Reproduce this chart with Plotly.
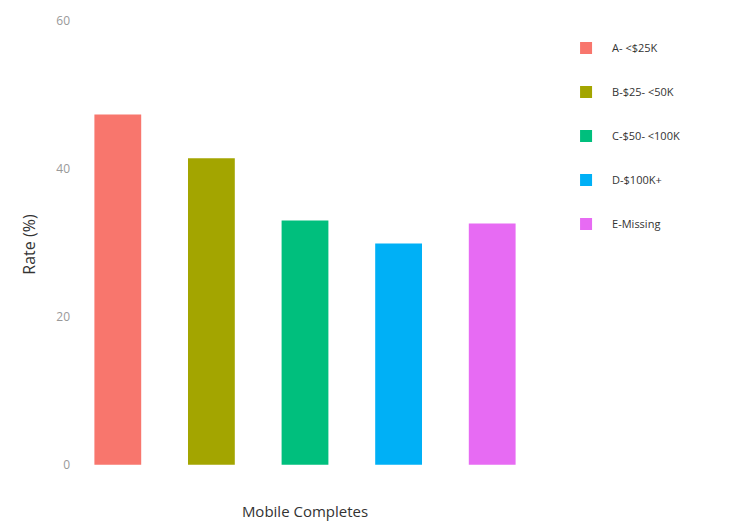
import plotly.graph_objects as go

categories = ["Mobile Completes"]
groups = ["A- <$25K", "B-$25- <50K", "C-$50- <100K", "D-$100K+", "E-Missing"]
rates = [47.3, 41.4, 33.0, 29.9, 32.6]
colors = ["#F8766D", "#A3A500", "#00BF7D", "#00B0F6", "#E76BF3"]
y_ticks = [0, 20, 40, 60]
title_text = "Completion Rate by Survey Type"

fig = go.Figure()
for g, r, c in zip(groups, rates, colors):
    fig.add_trace(go.Bar(x=categories, y=[r], name=g, marker_color=c,
                         marker_line_width=0, legendgroup=g))

fig.update_layout(
    width=736, height=526,
    barmode="group", bargap=0.0, bargroupgap=0.5,
    paper_bgcolor="white", plot_bgcolor="white",
    margin=dict(l=71, r=197, t=2, b=39),
    font=dict(family="Open Sans", color="#4d4d4d"),
    showlegend=True,
    legend=dict(x=1.045, y=0.935, xanchor="left", yanchor="top",
                font=dict(size=11, color="#333333"),
                tracegroupgap=25, traceorder="grouped",
                itemwidth=42),
    xaxis=dict(showgrid=False, zeroline=False, showline=False,
               ticks="", tickfont=dict(size=15, color="#333333"),
               ticklabelstandoff=14),
    yaxis=dict(range=[-3, 62.5], tickvals=y_ticks, showgrid=False,
               zeroline=False, showline=False, ticks="",
               tickfont=dict(size=12, color="#999999"),
               title=dict(text="Rate (%)", font=dict(size=16, color="#333333"),
                          standoff=16)),
    annotations=[dict(text=title_text, xref="paper", yref="paper",
                      x=0.5, y=1, xanchor="center", yanchor="bottom",
                      yshift=-1, showarrow=False,
                      font=dict(size=18, color="#333333"))],
)

fig.write_html("out.html")
